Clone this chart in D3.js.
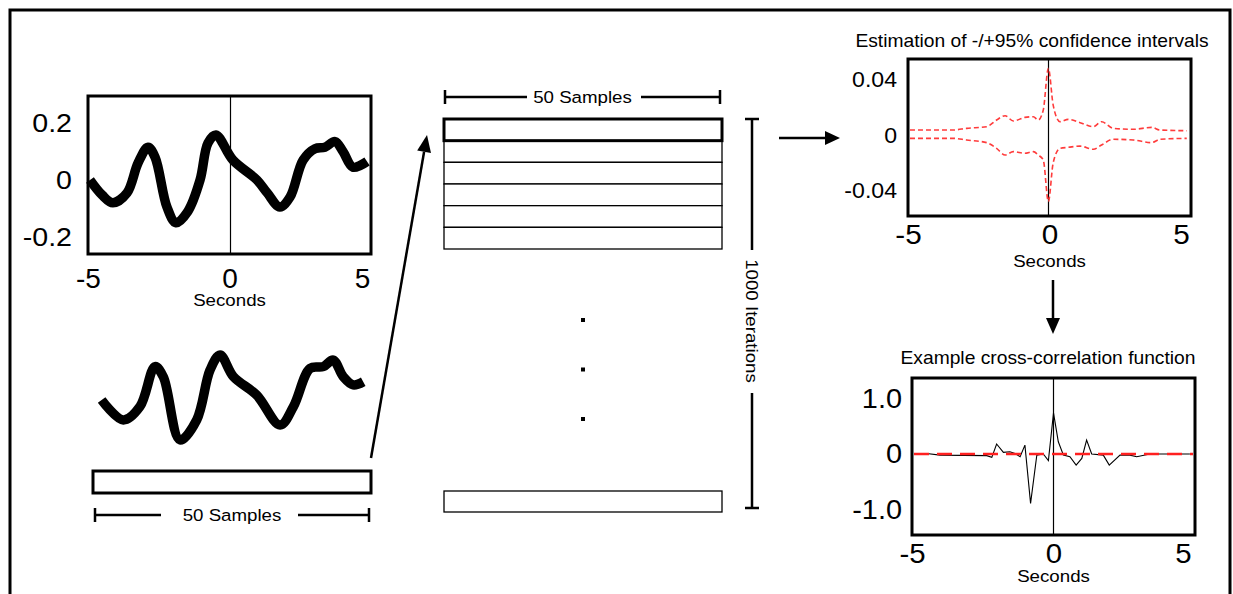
<!DOCTYPE html>
<html>
<head>
<meta charset="utf-8">
<script src="https://cdn.jsdelivr.net/npm/d3@7"></script>
<style>
  html, body { margin: 0; padding: 0; background: #fff; }
  svg { display: block; }
</style>
</head>
<body>
<svg width="1233" height="594"></svg>
<script>
// ---- data ----
const signalT = [-4.93, -4.5, -4.12, -3.62, -3.23, -2.88, -2.63, -2.21, -1.89, -1.47, -1.04, -0.76, -0.48, 0.12, 0.97, 1.33, 1.78, 2.14, 2.6, 3.02, 3.37, 3.73, 4.01, 4.36, 4.86];
const signalV = [0, -0.053, -0.08, -0.045, 0.06, 0.115, 0.08, -0.095, -0.15, -0.11, 0, 0.13, 0.158, 0.07, 0, -0.045, -0.095, -0.06, 0.07, 0.11, 0.115, 0.135, 0.1, 0.045, 0.065];

const sampleT = [-4.69, -3.91, -3.31, -2.77, -2.47, -1.87, -1.27, -0.79, -0.43, 0.05, 0.89, 1.73, 2.21, 2.81, 3.28, 3.64, 4.0, 4.36, 4.72];
const sampleV = [-0.007, -0.077, -0.03, 0.11, 0.074, -0.147, -0.077, 0.098, 0.151, 0.075, 0.01, -0.095, -0.03, 0.104, 0.11, 0.133, 0.075, 0.046, 0.057];

const ciT = [-4.93, -3.4, -2.93, -2.22, -1.87, -1.57, -1.28, -0.87, -0.57, -0.4, -0.22, -0.04, 0.13, 0.37, 0.66, 1.08, 1.55, 1.84, 2.25, 2.96, 3.61, 3.9, 4.85];
const ciUpper = [0.0036, 0.0036, 0.0048, 0.006, 0.0108, 0.0139, 0.0101, 0.0127, 0.0132, 0.0108, 0.018, 0.048, 0.0216, 0.0096, 0.0113, 0.0089, 0.006, 0.0096, 0.0048, 0.0041, 0.0055, 0.0036, 0.0031];
const ciLower = [-0.0024, -0.0024, -0.0036, -0.0055, -0.0096, -0.0144, -0.012, -0.0132, -0.012, -0.0144, -0.018, -0.048, -0.02, -0.0096, -0.0089, -0.008, -0.0103, -0.0072, -0.0031, -0.0036, -0.0055, -0.0031, -0.0024];

const ccfT = [-4.89, -4.48, -4.01, -2.36, -2.18, -2.01, -1.77, -1.54, -1.36, -1.18, -1.01, -0.81, -0.59, -0.36, -0.18, 0, 0.17, 0.35, 0.58, 0.8, 1.0, 1.17, 1.35, 1.76, 1.97, 2.35, 2.7, 2.94, 3.41, 4.82];
const ccfV = [0, 0.01, -0.02, -0.03, -0.06, 0.18, 0.03, 0.04, 0.01, -0.05, 0.16, -0.89, -0.02, 0, -0.12, 0.74, 0.22, -0.02, -0.05, -0.2, -0.08, 0.25, 0, -0.02, -0.2, -0.02, -0.02, -0.05, 0, 0];
const ccfThreshold = [0];

const xTicks = [-5, 0, 5];
const xTickLabels = ["-5", "0", "5"];
const sigTicks = [-0.2, 0, 0.2];
const sigTickLabels = ["-0.2", "0", "0.2"];
const ciTicks = [-0.04, 0, 0.04];
const ciTickLabels = ["-0.04", "0", "0.04"];
const ccfTicks = [-1, 0, 1];
const ccfTickLabels = ["-1.0", "0", "1.0"];

const rowsShown = 6;
const dotsShown = 3;
const samplesLabel = "50 Samples";
const iterLabel = "1000 Iterations";
const xLabel = "Seconds";
const ciTitle = "Estimation of -/+95% confidence intervals";
const ccfTitle = "Example cross-correlation function";

// ---- drawing ----
const SX = 1.1; // glyphs in the figure are a bit wide
const FONT = "'Liberation Sans', Arial, Helvetica, sans-serif";
let svg = d3.select("svg").attr("font-family", FONT);
svg.append("rect").attr("width", 1233).attr("height", 594).attr("fill", "#fff");

function txt(sel, x, y, s, size, anchor, rot) {
  return sel.append("text")
    .attr("transform", "translate(" + x + "," + y + ")" + (rot ? " rotate(" + rot + ")" : "") + " scale(" + SX + ",1)")
    .attr("font-size", size)
    .attr("text-anchor", anchor || "middle")
    .attr("fill", "#000")
    .text(s);
}

function arrow(x1, y1, x2, y2, len, half) {
  let a = Math.atan2(y2 - y1, x2 - x1);
  let bx = x2 - len * Math.cos(a), by = y2 - len * Math.sin(a);
  svg.append("line").attr("x1", x1).attr("y1", y1).attr("x2", bx).attr("y2", by)
    .attr("stroke", "#000").attr("stroke-width", 2.5);
  let px = -Math.sin(a) * half, py = Math.cos(a) * half;
  svg.append("path")
    .attr("d", "M" + x2 + "," + y2 + "L" + (bx + px) + "," + (by + py) + "L" + (bx - px) + "," + (by - py) + "Z")
    .attr("fill", "#000");
}

function axes(box, x, y, yVals, yLabs, o) {
  let g = svg.append("g");
  g.append("g")
    .attr("transform", "translate(" + box.x0 + ",0)")
    .call(d3.axisLeft(y).tickValues(yVals).tickSize(0).tickPadding(o.yPad / o.ySx).tickFormat((d, i) => yLabs[i]))
    .call(a => a.select(".domain").remove())
    .attr("font-family", FONT).attr("font-size", o.ySize)
    .selectAll("text").attr("fill", "#000").attr("transform", "scale(" + o.ySx + ",1)");
  g.append("g")
    .attr("transform", "translate(0," + box.y1 + ")")
    .call(d3.axisBottom(x).tickValues(xTicks).tickSize(0).tickPadding(o.xPad).tickFormat((d, i) => xTickLabels[i]))
    .call(a => a.select(".domain").remove())
    .attr("font-family", FONT).attr("font-size", o.xSize)
    .selectAll("text").attr("fill", "#000")
    .attr("dx", (d, i) => i === xTicks.length - 1 ? o.lastDx / o.xSx : 0)
    .attr("transform", "scale(" + o.xSx + ",1)");
  txt(svg, x(0), box.y1 + o.labelGap, xLabel, 17);
}

function frameBox(box) {
  svg.append("rect").attr("x", box.x0).attr("y", box.y0)
    .attr("width", box.x1 - box.x0).attr("height", box.y1 - box.y0)
    .attr("fill", "none").attr("stroke", "#000").attr("stroke-width", 3);
}

// outer frame (open at the bottom)
svg.append("path").attr("d", "M10,600V10H1230V600")
  .attr("fill", "none").attr("stroke", "#000").attr("stroke-width", 3);

// ---- panel 1: signal ----
let b1 = {x0: 88, x1: 371, y0: 96, y1: 254};
let x1 = d3.scaleLinear().domain([-5, 5]).range([b1.x0, b1.x1]);
let y1 = d3.scaleLinear().domain([-0.26, 0.295]).range([b1.y1, b1.y0]);
svg.append("line").attr("x1", x1(0) + 1).attr("x2", x1(0) + 1).attr("y1", b1.y0).attr("y2", b1.y1)
  .attr("stroke", "#000").attr("stroke-width", 1.2);
svg.append("path")
  .datum(signalT.map((t, i) => [t, signalV[i]]))
  .attr("d", d3.line().x(d => x1(d[0])).y(d => y1(d[1])).curve(d3.curveCatmullRom.alpha(0.5)))
  .attr("fill", "none").attr("stroke", "#000").attr("stroke-width", 9.5)
  .attr("stroke-linecap", "butt").attr("stroke-linejoin", "round");
frameBox(b1);
axes(b1, x1, y1, sigTicks, sigTickLabels,
  {yPad: 16, ySize: 26, ySx: 1.1, xPad: 14, xSize: 28, xSx: 1.0, lastDx: -9, labelGap: 52});

// ---- sample window signal ----
let xs = d3.scaleLinear().domain([-5, 5]).range([93, 371]);
let ys = d3.scaleLinear().domain([0, 0.1]).range([398, 369.5]);
svg.append("path")
  .datum(sampleT.map((t, i) => [t, sampleV[i]]))
  .attr("d", d3.line().x(d => xs(d[0])).y(d => ys(d[1])).curve(d3.curveCatmullRom.alpha(0.5)))
  .attr("fill", "none").attr("stroke", "#000").attr("stroke-width", 9.5)
  .attr("stroke-linecap", "butt").attr("stroke-linejoin", "round");
svg.append("rect").attr("x", 93).attr("y", 471).attr("width", 278).attr("height", 22)
  .attr("fill", "#fff").attr("stroke", "#000").attr("stroke-width", 3);

// horizontal bracket with centered label
function hBracket(xa, xb, y, gapA, gapB) {
  let cap = 7;
  svg.append("path")
    .attr("d", "M" + xa + "," + (y - cap) + "V" + (y + cap) + "M" + xa + "," + y + "H" + gapA +
      "M" + gapB + "," + y + "H" + xb + "M" + xb + "," + (y - cap) + "V" + (y + cap))
    .attr("fill", "none").attr("stroke", "#000").attr("stroke-width", 2.5);
  txt(svg, (xa + xb) / 2, y + 6, samplesLabel, 17);
}
hBracket(95, 369, 515, 161, 298);
hBracket(445, 720, 97, 527, 641);

// ---- bootstrap rows ----
let rowY = d3.scaleLinear().domain([0, rowsShown]).range([119, 249]);
d3.range(rowsShown).forEach(i => {
  svg.append("rect").attr("x", 444).attr("y", rowY(i)).attr("width", 278).attr("height", rowY(1) - rowY(0))
    .attr("fill", "#fff").attr("stroke", "#000").attr("stroke-width", 1.3);
});
svg.append("rect").attr("x", 444).attr("y", rowY(0)).attr("width", 278).attr("height", rowY(1) - rowY(0))
  .attr("fill", "none").attr("stroke", "#000").attr("stroke-width", 3);
let dotY = d3.scaleLinear().domain([0, dotsShown - 1]).range([320, 419]);
d3.range(dotsShown).forEach(i => {
  svg.append("rect").attr("x", 581).attr("y", dotY(i) - 2).attr("width", 4).attr("height", 4).attr("fill", "#000");
});
svg.append("rect").attr("x", 444).attr("y", 491).attr("width", 278).attr("height", 21)
  .attr("fill", "#fff").attr("stroke", "#000").attr("stroke-width", 1.3);

// vertical bracket
svg.append("path")
  .attr("d", "M745,119H759M752,119V250M752,393V508M745,508H759")
  .attr("fill", "none").attr("stroke", "#000").attr("stroke-width", 2.5);
txt(svg, 746, 321, iterLabel, 17, "middle", 90);

// arrows
arrow(371, 458, 427, 135, 17, 7);
arrow(779, 138, 840, 138, 15, 7);
arrow(1053, 280, 1053, 334, 16, 7);

// ---- panel 2: confidence intervals ----
let b2 = {x0: 908, x1: 1191, y0: 59, y1: 216};
let x2 = d3.scaleLinear().domain([-5, 5]).range([b2.x0, b2.x1]);
let y2 = d3.scaleLinear().domain([-0.0584, 0.0548]).range([b2.y1, b2.y0]);
svg.append("line").attr("x1", x2(0) - 1).attr("x2", x2(0) - 1).attr("y1", b2.y0).attr("y2", b2.y1)
  .attr("stroke", "#000").attr("stroke-width", 1.2);
[ciUpper, ciLower].forEach(vals => {
  svg.append("path")
    .datum(ciT.map((t, i) => [t, vals[i]]))
    .attr("d", d3.line().x(d => x2(d[0])).y(d => y2(d[1])).curve(d3.curveMonotoneX))
    .attr("fill", "none").attr("stroke", "#ff3b3b").attr("stroke-width", 1.6)
    .attr("stroke-dasharray", "5,3");
});
frameBox(b2);
txt(svg, 1032, 47, ciTitle, 17.5);
axes(b2, x2, y2, ciTicks, ciTickLabels,
  {yPad: 11, ySize: 22, ySx: 1.05, xPad: 9, xSize: 27, xSx: 1.1, lastDx: -10, labelGap: 51});

// ---- panel 3: example cross-correlation ----
let b3 = {x0: 912, x1: 1195, y0: 378, y1: 535};
let x3 = d3.scaleLinear().domain([-5, 5]).range([b3.x0, b3.x1]);
let y3 = d3.scaleLinear().domain([-1.46, 1.37]).range([b3.y1, b3.y0]);
svg.append("line").attr("x1", x3(0)).attr("x2", x3(0)).attr("y1", b3.y0).attr("y2", b3.y1)
  .attr("stroke", "#000").attr("stroke-width", 1.2);
svg.append("path")
  .datum(ccfT.map((t, i) => [t, ccfV[i]]))
  .attr("d", d3.line().x(d => x3(d[0])).y(d => y3(d[1])))
  .attr("fill", "none").attr("stroke", "#000").attr("stroke-width", 1.1);
ccfThreshold.forEach(v => {
  svg.append("line").attr("x1", b3.x0 + 2).attr("x2", b3.x1 - 2).attr("y1", y3(v)).attr("y2", y3(v))
    .attr("stroke", "#ff2020").attr("stroke-width", 2.5).attr("stroke-dasharray", "15,8");
});
frameBox(b3);
txt(svg, 1048, 364, ccfTitle, 17.5);
axes(b3, x3, y3, ccfTicks, ccfTickLabels,
  {yPad: 10, ySize: 27, ySx: 1.07, xPad: 8, xSize: 28, xSx: 1.05, lastDx: -12, labelGap: 47});
</script>
</body>
</html>
